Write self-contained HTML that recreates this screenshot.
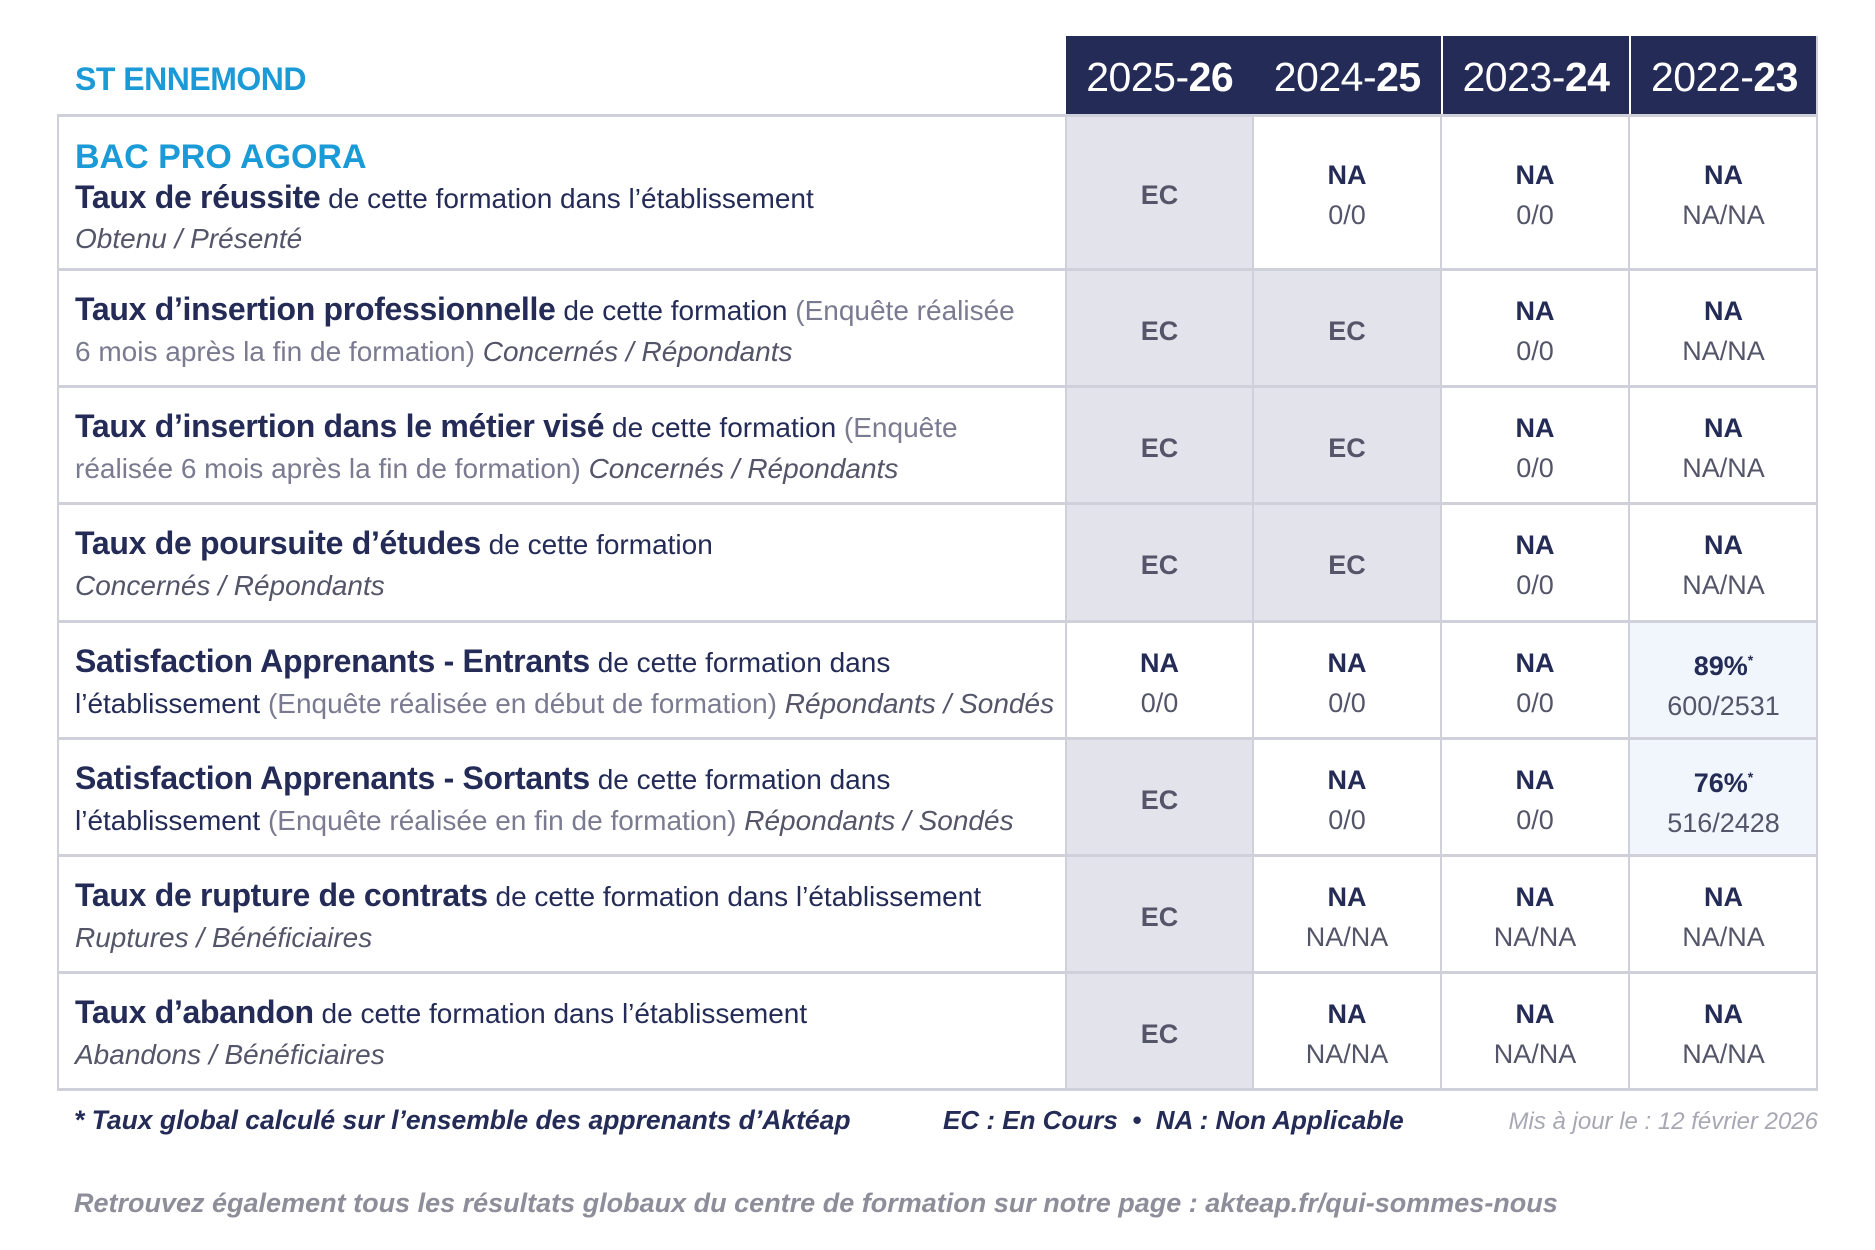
<!DOCTYPE html>
<html><head><meta charset="utf-8">
<style>
*{margin:0;padding:0;box-sizing:border-box}
body{width:1875px;height:1250px;background:#fff;position:relative;overflow:hidden;font-family:"Liberation Sans Narrow","Liberation Sans",sans-serif;color:#232b56}
.abs{position:absolute}
.hdr{position:absolute;top:36px;height:79px;background:#232b56;color:#fff;font-size:41px;display:flex;align-items:center;justify-content:center;letter-spacing:-0.5px;padding-top:4px}
.hdr b{font-weight:bold}
.cell{position:absolute;display:flex;flex-direction:column;align-items:center;justify-content:center;font-size:27px;line-height:40px;text-align:center;padding-top:6px}
.cell b{color:#232b56}
.cell span{color:#55556a}
.ec{background:#e3e3eb;color:#55556a;font-weight:bold}
.lbl{position:absolute;left:75px;width:990px;display:flex;flex-direction:column;justify-content:center;font-size:28px;line-height:41px;color:#232b56;padding-top:6px}
.lbl b{font-size:32px;letter-spacing:-0.3px}
.g{color:#7a7a90}
.i{font-style:italic;color:#55556a}
.hl{position:absolute;left:57px;width:1761px;height:3px;background:#cfd0da}
.vl{position:absolute;width:2px;background:#cfd0da}
.lb{background:#f1f6fc}
</style></head><body>
<div class="abs" style="left:75px;top:61px;font-size:32px;font-weight:bold;color:#1a9ad6;letter-spacing:-0.5px">ST ENNEMOND</div>
<div class="hdr" style="left:1066px;width:375px;justify-content:space-around"><span>2025-<b>26</b></span><span>2024-<b>25</b></span></div>
<div class="hdr" style="left:1443px;width:186px">2023-<b>24</b></div>
<div class="hdr" style="left:1631px;width:187px">2022-<b>23</b></div>

<div class="cell ec" style="left:1066px;top:115px;width:187px;height:975px"></div>
<div class="cell ec" style="left:1253px;top:269px;width:188px;height:352px"></div>
<div class="cell lb" style="left:1629px;top:621px;width:189px;height:234px"></div>
<div class="cell" style="left:1066px;top:621px;width:187px;height:117px;background:#fff"></div>

<div class="hl" style="top:114px"></div>
<div class="hl" style="top:268px"></div>
<div class="hl" style="top:385px"></div>
<div class="hl" style="top:502px"></div>
<div class="hl" style="top:620px"></div>
<div class="hl" style="top:737px"></div>
<div class="hl" style="top:854px"></div>
<div class="hl" style="top:971px"></div>
<div class="hl" style="top:1088px"></div>
<div class="vl" style="left:57px;top:115px;height:975px"></div>
<div class="vl" style="left:1065px;top:115px;height:975px"></div>
<div class="vl" style="left:1252px;top:115px;height:975px"></div>
<div class="vl" style="left:1440px;top:115px;height:975px"></div>
<div class="vl" style="left:1628px;top:115px;height:975px"></div>
<div class="vl" style="left:1816px;top:36px;height:1054px"></div>

<div class="lbl" style="top:128px;height:134px;line-height:40px">
<div style="color:#1a9ad6;font-weight:bold;font-size:34px">BAC PRO AGORA</div>
<div><b>Taux de réussite</b> de cette formation dans l’établissement</div>
<div class="i">Obtenu / Présenté</div></div>
<div class="lbl" style="top:269px;height:117px"><div><b>Taux d’insertion professionnelle</b> de cette formation <span class="g">(Enquête réalisée</span></div><div><span class="g">6 mois après la fin de formation)</span> <span class="i">Concernés / Répondants</span></div></div>
<div class="lbl" style="top:386px;height:117px"><div><b>Taux d’insertion dans le métier visé</b> de cette formation <span class="g">(Enquête</span></div><div><span class="g">réalisée 6 mois après la fin de formation)</span> <span class="i">Concernés / Répondants</span></div></div>
<div class="lbl" style="top:503px;height:117px"><div><b>Taux de poursuite d’études</b> de cette formation</div><div class="i">Concernés / Répondants</div></div>
<div class="lbl" style="top:621px;height:117px"><div><b>Satisfaction Apprenants - Entrants</b> de cette formation dans</div><div>l’établissement <span class="g">(Enquête réalisée en début de formation)</span> <span class="i">Répondants / Sondés</span></div></div>
<div class="lbl" style="top:738px;height:117px"><div><b>Satisfaction Apprenants - Sortants</b> de cette formation dans</div><div>l’établissement <span class="g">(Enquête réalisée en fin de formation)</span> <span class="i">Répondants / Sondés</span></div></div>
<div class="lbl" style="top:855px;height:117px"><div><b>Taux de rupture de contrats</b> de cette formation dans l’établissement</div><div class="i">Ruptures / Bénéficiaires</div></div>
<div class="lbl" style="top:972px;height:117px"><div><b>Taux d’abandon</b> de cette formation dans l’établissement</div><div class="i">Abandons / Bénéficiaires</div></div>

<div class="cell ec" style="left:1066px;top:115px;width:187px;height:154px;background:none">EC</div>
<div class="cell" style="left:1253px;top:115px;width:188px;height:154px"><b>NA</b><span>0/0</span></div>
<div class="cell" style="left:1441px;top:115px;width:188px;height:154px"><b>NA</b><span>0/0</span></div>
<div class="cell" style="left:1629px;top:115px;width:189px;height:154px"><b>NA</b><span>NA/NA</span></div>

<div class="cell ec" style="left:1066px;top:269px;width:187px;height:117px;background:none">EC</div>
<div class="cell ec" style="left:1253px;top:269px;width:188px;height:117px;background:none">EC</div>
<div class="cell" style="left:1441px;top:269px;width:188px;height:117px"><b>NA</b><span>0/0</span></div>
<div class="cell" style="left:1629px;top:269px;width:189px;height:117px"><b>NA</b><span>NA/NA</span></div>

<div class="cell ec" style="left:1066px;top:386px;width:187px;height:117px;background:none">EC</div>
<div class="cell ec" style="left:1253px;top:386px;width:188px;height:117px;background:none">EC</div>
<div class="cell" style="left:1441px;top:386px;width:188px;height:117px"><b>NA</b><span>0/0</span></div>
<div class="cell" style="left:1629px;top:386px;width:189px;height:117px"><b>NA</b><span>NA/NA</span></div>

<div class="cell ec" style="left:1066px;top:503px;width:187px;height:117px;background:none">EC</div>
<div class="cell ec" style="left:1253px;top:503px;width:188px;height:117px;background:none">EC</div>
<div class="cell" style="left:1441px;top:503px;width:188px;height:117px"><b>NA</b><span>0/0</span></div>
<div class="cell" style="left:1629px;top:503px;width:189px;height:117px"><b>NA</b><span>NA/NA</span></div>

<div class="cell" style="left:1066px;top:621px;width:187px;height:117px"><b>NA</b><span>0/0</span></div>
<div class="cell" style="left:1253px;top:621px;width:188px;height:117px"><b>NA</b><span>0/0</span></div>
<div class="cell" style="left:1441px;top:621px;width:188px;height:117px"><b>NA</b><span>0/0</span></div>
<div class="cell" style="left:1629px;top:621px;width:189px;height:117px"><b>89%<sup style="font-size:14px">*</sup></b><span>600/2531</span></div>

<div class="cell ec" style="left:1066px;top:738px;width:187px;height:117px;background:none">EC</div>
<div class="cell" style="left:1253px;top:738px;width:188px;height:117px"><b>NA</b><span>0/0</span></div>
<div class="cell" style="left:1441px;top:738px;width:188px;height:117px"><b>NA</b><span>0/0</span></div>
<div class="cell" style="left:1629px;top:738px;width:189px;height:117px"><b>76%<sup style="font-size:14px">*</sup></b><span>516/2428</span></div>

<div class="cell ec" style="left:1066px;top:855px;width:187px;height:117px;background:none">EC</div>
<div class="cell" style="left:1253px;top:855px;width:188px;height:117px"><b>NA</b><span>NA/NA</span></div>
<div class="cell" style="left:1441px;top:855px;width:188px;height:117px"><b>NA</b><span>NA/NA</span></div>
<div class="cell" style="left:1629px;top:855px;width:189px;height:117px"><b>NA</b><span>NA/NA</span></div>

<div class="cell ec" style="left:1066px;top:972px;width:187px;height:117px;background:none">EC</div>
<div class="cell" style="left:1253px;top:972px;width:188px;height:117px"><b>NA</b><span>NA/NA</span></div>
<div class="cell" style="left:1441px;top:972px;width:188px;height:117px"><b>NA</b><span>NA/NA</span></div>
<div class="cell" style="left:1629px;top:972px;width:189px;height:117px"><b>NA</b><span>NA/NA</span></div>

<div class="abs" style="left:74px;top:1105px;font-size:26.5px;font-style:italic;font-weight:bold;color:#232b56">* Taux global calculé sur l’ensemble des apprenants d’Aktéap</div>
<div class="abs" style="left:943px;top:1105px;font-size:26px;font-style:italic;font-weight:bold;color:#232b56">EC : En Cours &nbsp;•&nbsp; NA : Non Applicable</div>
<div class="abs" style="right:57px;top:1108px;font-size:24px;font-style:italic;color:#a8a8b4">Mis à jour le : 12 février 2026</div>
<div class="abs" style="left:74px;top:1188px;font-size:27px;font-style:italic;font-weight:bold;color:#8e8e9a">Retrouvez également tous les résultats globaux du centre de formation sur notre page : akteap.fr/qui-sommes-nous</div>
</body></html>
